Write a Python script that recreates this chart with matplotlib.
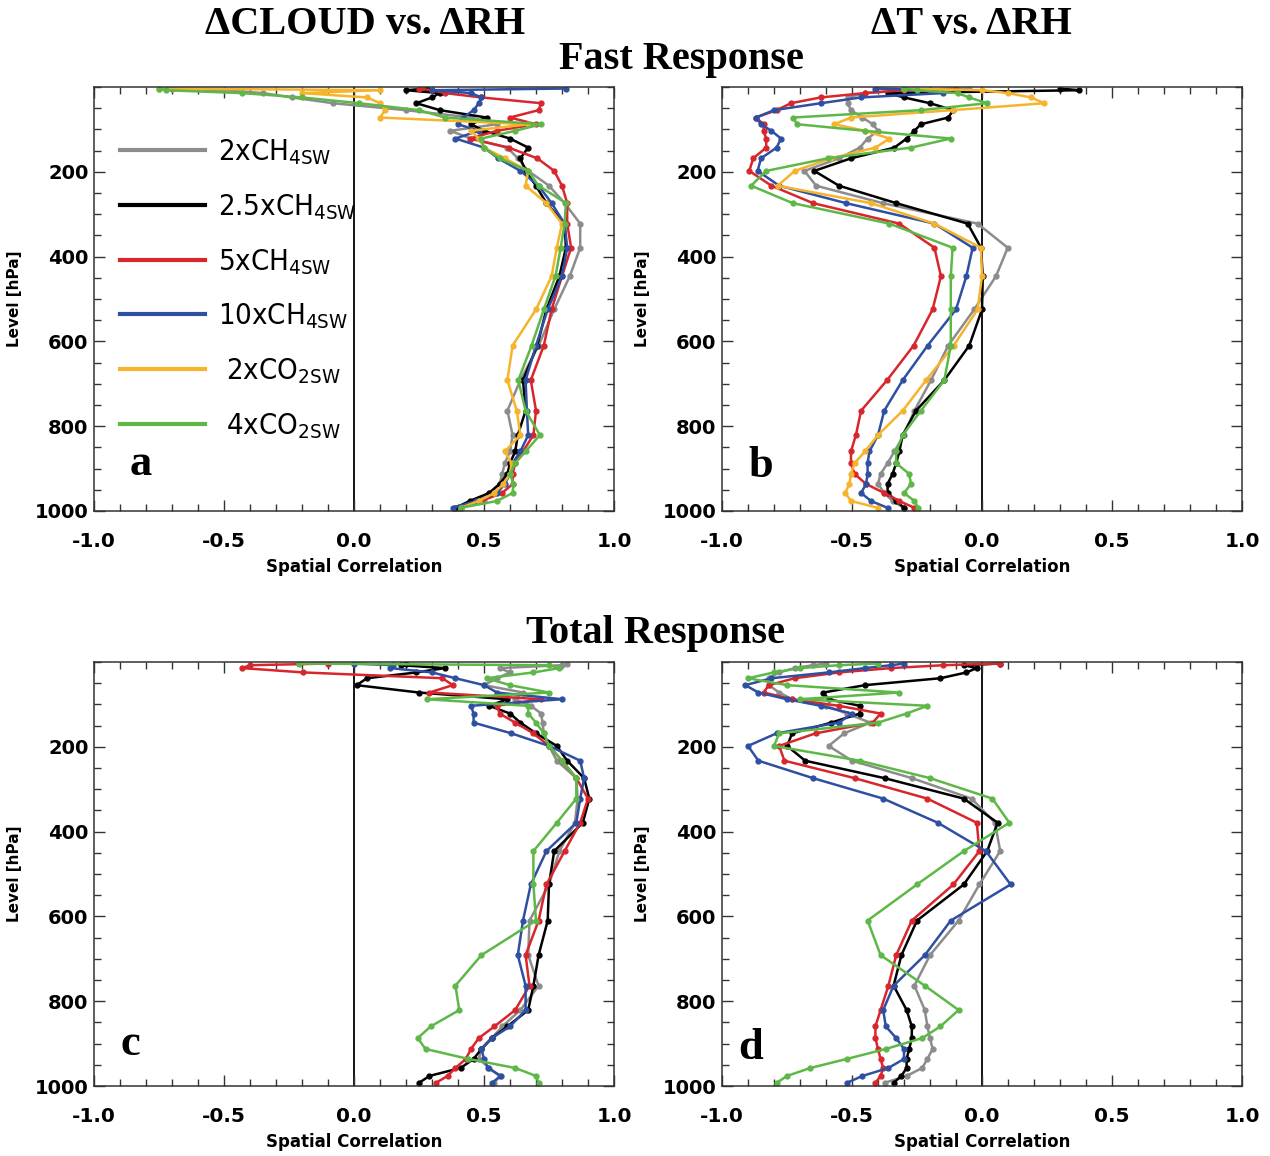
import matplotlib
matplotlib.use("Agg")
import matplotlib.pyplot as plt
from matplotlib import font_manager
from matplotlib.font_manager import FontProperties
from matplotlib.lines import Line2D
from matplotlib.ticker import MultipleLocator, FormatStrFormatter

# model level midpoints [hPa], top to bottom
lev = [3.64, 7.59, 14.36, 24.61, 38.27, 54.60, 72.01, 87.82, 103.32, 121.55,
       142.99, 168.23, 197.91, 232.83, 273.91, 322.24, 379.10, 445.99, 524.69, 609.78,
       691.39, 763.40, 820.86, 859.53, 887.02, 912.64, 936.20, 957.49, 976.33, 992.56]

names = ["2xCH$_\\mathregular{4SW}$", "2.5xCH$_\\mathregular{4SW}$", "5xCH$_\\mathregular{4SW}$",
         "10xCH$_\\mathregular{4SW}$", " 2xCO$_\\mathregular{2SW}$", " 4xCO$_\\mathregular{2SW}$"]
colors = ["#8c8c8c", "#000000", "#d8262c", "#2f4fa2", "#f5b42c", "#5db848"]

# a: dCLOUD vs dRH, fast response
a_2ch4 = [-0.70, -0.50, -0.35, -0.24, -0.08, 0.20, 0.45, 0.55, 0.37, 0.45, 0.59, 0.63, 0.67, 0.75, 0.81,
          0.87, 0.87, 0.83, 0.77, 0.71, 0.64, 0.59, 0.61, 0.60, 0.58, 0.57, 0.56, 0.52, 0.50, 0.40]
a_25ch4 = [0.28, 0.20, 0.33, 0.30, 0.24, 0.33, 0.51, 0.45, 0.50, 0.60, 0.67, 0.64, 0.66, 0.70, 0.74,
           0.81, 0.815, 0.79, 0.74, 0.705, 0.65, 0.66, 0.63, 0.62, 0.60, 0.59, 0.56, 0.52, 0.445, 0.39]
a_5ch4 = [0.25, 0.30, 0.35, 0.49, 0.72, 0.71, 0.60, 0.70, 0.55, 0.445, 0.595, 0.705, 0.77, 0.80, 0.82,
          0.82, 0.835, 0.80, 0.76, 0.73, 0.68, 0.70, 0.69, 0.65, 0.62, 0.61, 0.61, 0.57, 0.49, 0.41]
a_10ch4 = [0.815, 0.30, 0.45, 0.49, 0.48, 0.46, 0.42, 0.40, 0.48, 0.39, 0.50, 0.555, 0.64, 0.71, 0.76,
           0.81, 0.82, 0.80, 0.745, 0.70, 0.66, 0.665, 0.67, 0.64, 0.61, 0.60, 0.58, 0.55, 0.47, 0.38]
a_2co2 = [-0.75, 0.10, -0.20, 0.05, 0.10, 0.12, 0.10, 0.67, 0.45, 0.48, 0.50, 0.58, 0.67, 0.66, 0.74,
          0.80, 0.78, 0.76, 0.70, 0.61, 0.59, 0.626, 0.64, 0.58, 0.606, 0.60, 0.574, 0.54, 0.48, 0.41]
a_4co2 = [-0.75, -0.725, -0.43, -0.20, 0.02, 0.25, 0.35, 0.72, 0.62, 0.49, 0.50, 0.56, 0.67, 0.71, 0.815,
          0.81, 0.795, 0.775, 0.73, 0.683, 0.632, 0.66, 0.715, 0.66, 0.62, 0.60, 0.613, 0.61, 0.55, 0.41]

# b: dT vs dRH, fast response
b_2ch4 = [-0.05, -0.30, -0.45, -0.517, -0.517, -0.504, -0.46, -0.42, -0.40, -0.44, -0.47, -0.55, -0.683, -0.638, -0.382,
          -0.017, 0.099, 0.054, -0.03, -0.13, -0.196, -0.26, -0.30, -0.337, -0.363, -0.39, -0.40, -0.376, -0.344, -0.30]
b_25ch4 = [0.30, 0.374, -0.363, -0.30, -0.20, -0.11, -0.13, -0.235, -0.26, -0.29, -0.337, -0.504, -0.645, -0.55, -0.33,
           -0.055, -0.004, 0.003, 0.0, -0.049, -0.145, -0.254, -0.305, -0.318, -0.33, -0.344, -0.363, -0.363, -0.33, -0.30]
b_5ch4 = [-0.10, -0.30, -0.45, -0.62, -0.735, -0.79, -0.87, -0.84, -0.84, -0.83, -0.83, -0.88, -0.895, -0.81, -0.65,
          -0.318, -0.183, -0.158, -0.19, -0.263, -0.365, -0.465, -0.485, -0.504, -0.504, -0.49, -0.446, -0.376, -0.318, -0.26]
b_10ch4 = [-0.41, -0.20, -0.15, -0.465, -0.62, -0.80, -0.87, -0.85, -0.81, -0.773, -0.79, -0.85, -0.863, -0.78, -0.523,
           -0.183, -0.036, -0.06, -0.10, -0.209, -0.305, -0.376, -0.40, -0.433, -0.44, -0.44, -0.446, -0.465, -0.427, -0.363]
b_2co2 = [-0.30, 0.0, 0.10, 0.188, 0.24, -0.113, -0.504, -0.568, -0.45, -0.356, -0.41, -0.58, -0.72, -0.786, -0.427,
          -0.183, -0.004, 0.0, -0.017, -0.109, -0.215, -0.305, -0.40, -0.45, -0.49, -0.504, -0.51, -0.526, -0.504, -0.40]
b_4co2 = [-0.30, -0.25, -0.094, -0.05, 0.02, -0.235, -0.728, -0.71, -0.45, -0.12, -0.273, -0.594, -0.83, -0.888, -0.728,
          -0.356, -0.113, -0.12, -0.12, -0.12, -0.145, -0.235, -0.305, -0.33, -0.33, -0.28, -0.273, -0.30, -0.26, -0.245]

# c: dCLOUD vs dRH, total response (no 2xCO2 run)
c_2ch4 = [0.82, 0.80, 0.56, 0.60, 0.55, 0.50, 0.65, 0.62, 0.68, 0.72, 0.725, 0.73, 0.75, 0.78, 0.855,
          0.86, 0.85, 0.79, 0.75, 0.675, 0.67, 0.71, 0.64, 0.57, 0.53, 0.49, 0.48, 0.52, 0.56, 0.54]
c_25ch4 = [0.20, 0.18, 0.35, 0.24, 0.05, 0.01, 0.25, 0.59, 0.52, 0.60, 0.64, 0.70, 0.78, 0.82, 0.885,
           0.905, 0.88, 0.77, 0.75, 0.745, 0.71, 0.69, 0.67, 0.59, 0.53, 0.49, 0.46, 0.41, 0.29, 0.25]
c_5ch4 = [-0.10, -0.40, -0.43, -0.195, 0.34, 0.38, 0.29, 0.72, 0.55, 0.56, 0.62, 0.69, 0.75, 0.80, 0.855,
          0.90, 0.87, 0.81, 0.74, 0.71, 0.66, 0.675, 0.62, 0.54, 0.48, 0.45, 0.43, 0.39, 0.36, 0.315]
c_10ch4 = [0.0, 0.15, 0.14, 0.30, 0.39, 0.50, 0.55, 0.80, 0.45, 0.46, 0.46, 0.605, 0.75, 0.87, 0.885,
           0.87, 0.855, 0.74, 0.68, 0.65, 0.63, 0.66, 0.66, 0.60, 0.53, 0.49, 0.50, 0.515, 0.565, 0.53]
c_4co2 = [-0.21, 0.75, 0.79, 0.69, 0.51, 0.60, 0.75, 0.28, 0.67, 0.67, 0.70, 0.73, 0.75, 0.80, 0.855,
          0.855, 0.78, 0.69, 0.69, 0.70, 0.49, 0.39, 0.405, 0.295, 0.245, 0.275, 0.44, 0.62, 0.70, 0.71]

# d: dT vs dRH, total response
d_2ch4 = [-0.60, -0.65, -0.72, -0.78, -0.82, -0.82, -0.78, -0.73, -0.60, -0.52, -0.43, -0.53, -0.59, -0.50, -0.27,
          -0.04, 0.05, 0.07, -0.01, -0.09, -0.20, -0.26, -0.22, -0.21, -0.20, -0.19, -0.21, -0.23, -0.29, -0.375]
d_25ch4 = [0.07, -0.07, -0.02, -0.06, -0.16, -0.45, -0.61, -0.59, -0.47, -0.47, -0.58, -0.73, -0.75, -0.68, -0.375,
           -0.07, 0.06, 0.02, -0.07, -0.25, -0.31, -0.34, -0.29, -0.27, -0.27, -0.28, -0.29, -0.29, -0.31, -0.34]
d_5ch4 = [0.07, -0.15, -0.35, -0.55, -0.72, -0.82, -0.84, -0.73, -0.55, -0.39, -0.42, -0.64, -0.78, -0.76, -0.49,
          -0.21, -0.02, -0.01, -0.11, -0.27, -0.33, -0.36, -0.39, -0.41, -0.41, -0.40, -0.39, -0.38, -0.39, -0.41]
d_10ch4 = [-0.30, -0.35, -0.45, -0.59, -0.81, -0.91, -0.86, -0.75, -0.62, -0.50, -0.55, -0.79, -0.90, -0.86, -0.65,
           -0.38, -0.17, 0.015, 0.11, -0.12, -0.22, -0.34, -0.38, -0.37, -0.33, -0.30, -0.30, -0.36, -0.46, -0.52]
d_4co2 = [-0.40, -0.55, -0.70, -0.80, -0.90, -0.75, -0.32, -0.70, -0.21, -0.29, -0.40, -0.78, -0.80, -0.47, -0.20,
          0.04, 0.105, -0.07, -0.25, -0.44, -0.39, -0.22, -0.09, -0.16, -0.23, -0.37, -0.52, -0.66, -0.75, -0.79]

plt.rcParams["font.family"] = "DejaVu Sans"
plt.rcParams["mathtext.default"] = "regular"

# narrow face for the legend if one is installed
narrow_faces = [f for f in font_manager.fontManager.ttflist
                if ("Narrow" in f.name or "Condensed" in f.name or "condensed" in str(f.stretch))
                and f.style == "normal" and f.weight in (400, "normal", "regular")]
if narrow_faces:
    legend_font = FontProperties(fname=narrow_faces[0].fname, size=21)
else:
    legend_font = FontProperties(family="DejaVu Sans", size=19)

fig = plt.figure(figsize=(12.7, 11.56), dpi=100)
W, H = 1270.0, 1156.0


def panel(left, top, series, cols, letter, lx, ly):
    ax = fig.add_axes([left / W, 1 - (top + 424) / H, 520 / W, 424 / H])
    ax.axvline(0, color="black", lw=1.3, zorder=1)
    for x, c in zip(series, cols):
        ax.plot(x, lev, color=c, lw=1.8, marker="o", ms=3.5, mec=c, zorder=2)
    ax.set_xlim(-1, 1)
    ax.set_ylim(1000, 0)
    ax.xaxis.set_major_locator(MultipleLocator(0.5))
    ax.xaxis.set_minor_locator(MultipleLocator(0.1))
    ax.xaxis.set_major_formatter(FormatStrFormatter("%.1f"))
    ax.yaxis.set_minor_locator(MultipleLocator(50))
    ax.set_yticks([200, 400, 600, 800, 1000])
    ax.tick_params(which="both", direction="in", top=True, right=True, width=1.0, color="#333333")
    ax.tick_params(which="major", length=8, labelsize=14)
    ax.tick_params(which="minor", length=5)
    ax.tick_params(axis="x", labelsize=14.5, pad=15)
    ax.tick_params(axis="y", pad=4)
    for t in ax.get_xticklabels() + ax.get_yticklabels():
        t.set_fontweight("bold")
    for s in ax.spines.values():
        s.set_linewidth(1.1)
        s.set_color("#333333")
    ax.set_xlabel("Spatial Correlation", fontsize=12, fontweight="bold", labelpad=5)
    ax.set_ylabel("Level [hPa]", fontsize=11, fontweight="bold", labelpad=9)
    ax.text(lx, ly, letter, fontsize=32, fontweight="bold", family="Liberation Serif",
            ha="center", va="center")
    return ax


ax_a = panel(94, 87, [a_2ch4, a_25ch4, a_5ch4, a_10ch4, a_2co2, a_4co2], colors, "a", -0.82, 888)
ax_b = panel(722, 87, [b_2ch4, b_25ch4, b_5ch4, b_10ch4, b_2co2, b_4co2], colors, "b", -0.85, 893)
cols5 = [colors[0], colors[1], colors[2], colors[3], colors[5]]
ax_c = panel(94, 662, [c_2ch4, c_25ch4, c_5ch4, c_10ch4, c_4co2], cols5, "c", -0.86, 900)
ax_d = panel(722, 662, [d_2ch4, d_25ch4, d_5ch4, d_10ch4, d_4co2], cols5, "d", -0.89, 910)

handles = [Line2D([], [], color=c, lw=3) for c in colors]
ax_a.legend(handles, names, loc="upper left", bbox_to_anchor=(0.05, 0.882), frameon=False,
            handlelength=2.9, handletextpad=0.45, labelspacing=0.86, borderpad=0, borderaxespad=0,
            prop=legend_font)

serif = "Liberation Serif"
fig.text(365 / W, 1 - 24 / H, "\u0394CLOUD vs. \u0394RH", ha="center", va="center",
         fontsize=29, fontweight="bold", family=serif)
fig.text(971 / W, 1 - 24 / H, "\u0394T vs. \u0394RH", ha="center", va="center",
         fontsize=29, fontweight="bold", family=serif)
fig.text(681 / W, 1 - 59 / H, "Fast Response", ha="center", va="center",
         fontsize=29, fontweight="bold", family=serif)
fig.text(655 / W, 1 - 634 / H, "Total Response", ha="center", va="center",
         fontsize=29, fontweight="bold", family=serif)

fig.savefig("out.png", dpi=100)
